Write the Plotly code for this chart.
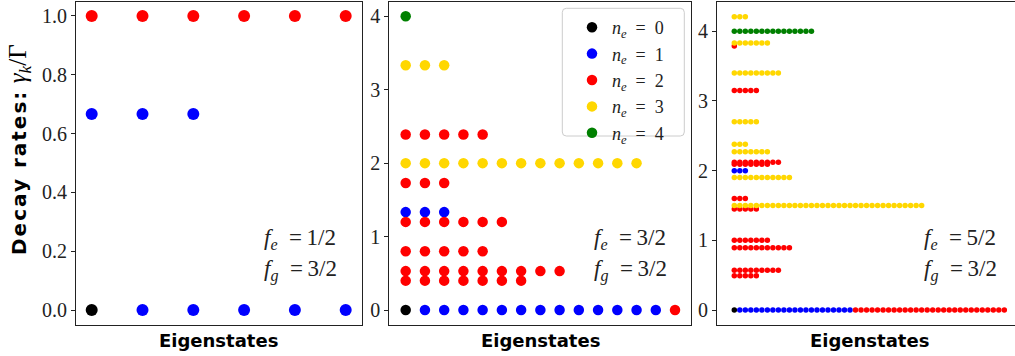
import plotly.graph_objects as go

# ---------------- data ----------------
# decay-rate levels (gamma_k / Gamma) per panel, and number of eigenstates
# at each level for each number of excitations n_e
P1_LEVELS = [0.0, 0.667, 1.0]
P1_NE0 = [1, 0, 0]
P1_NE1 = [5, 3, 0]
P1_NE2 = [0, 0, 6]
P1_NE3 = [0, 0, 0]
P1_NE4 = [0, 0, 0]

P2_LEVELS = [0.0, 0.4, 0.53, 0.8, 1.2, 1.333, 1.73, 2.0, 2.39, 3.333, 4.0]
P2_NE0 = [1, 0, 0, 0, 0, 0, 0, 0, 0, 0, 0]
P2_NE1 = [13, 0, 0, 0, 0, 3, 0, 0, 0, 0, 0]
P2_NE2 = [1, 7, 9, 5, 6, 0, 3, 0, 5, 0, 0]
P2_NE3 = [0, 0, 0, 0, 0, 0, 0, 13, 0, 3, 0]
P2_NE4 = [0, 0, 0, 0, 0, 0, 0, 0, 0, 0, 1]

P3_LEVELS = [0.0, 0.49, 0.57, 0.895, 1.0, 1.45, 1.5, 1.6, 1.9, 2.0, 2.09, 2.12,
             2.27, 2.38, 2.7, 3.15, 3.4, 3.79, 3.83, 4.0, 4.21]
P3_NE0 = [1, 0, 0, 0, 0, 0, 0, 0, 0, 0, 0, 0, 0, 0, 0, 0, 0, 0, 0, 0, 0]
P3_NE1 = [21, 0, 0, 0, 0, 0, 0, 0, 0, 3, 0, 0, 0, 0, 0, 0, 0, 0, 0, 0, 0]
P3_NE2 = [28, 5, 9, 11, 7, 5, 0, 3, 0, 0, 7, 9, 0, 0, 0, 5, 0, 1, 0, 0, 0]
P3_NE3 = [0, 0, 0, 0, 0, 0, 35, 0, 11, 0, 0, 0, 7, 3, 5, 0, 9, 0, 7, 0, 3]
P3_NE4 = [0, 0, 0, 0, 0, 0, 0, 0, 0, 0, 0, 0, 0, 0, 0, 0, 0, 0, 0, 15, 0]

NE_LABELS = ["0", "1", "2", "3", "4"]
COLORS = ["#000000", "#0000ff", "#ff0000", "#ffd700", "#008000"]
PANEL_TEXT = [("1/2", "3/2"), ("3/2", "3/2"), ("5/2", "3/2")]

# ---------------- layout helpers ----------------
W, H = 1015, 356
def fx(p):
    return p / W
def fy(p):
    return 1 - p / H

panels = [
    dict(levels=P1_LEVELS, counts=[P1_NE0, P1_NE1, P1_NE2, P1_NE3, P1_NE4],
         xdom=(76, 361.7), xr=(-0.309, 5.315), yr=(-0.051, 1.0476),
         yticks=[0, 0.2, 0.4, 0.6, 0.8, 1.0],
         yticktext=["0.0", "0.2", "0.4", "0.6", "0.8", "1.0"],
         msize=12, txt_x=261.7, mirror=True),
    dict(levels=P2_LEVELS, counts=[P2_NE0, P2_NE1, P2_NE2, P2_NE3, P2_NE4],
         xdom=(389.3, 691), xr=(-0.852, 14.83), yr=(-0.204, 4.194),
         yticks=[0, 1, 2, 3, 4], yticktext=["0", "1", "2", "3", "4"],
         msize=10.5, txt_x=591.7, mirror=True),
    dict(levels=P3_LEVELS, counts=[P3_NE0, P3_NE1, P3_NE2, P3_NE3, P3_NE4],
         xdom=(717, 1015), xr=(-3.14, 50.94), yr=(-0.215, 4.42),
         yticks=[0, 1, 2, 3, 4], yticktext=["0", "1", "2", "3", "4"],
         msize=5.5, txt_x=921.7, mirror=False),
]

SERIF = "Liberation Serif"
SANS = "DejaVu Sans"
fig = go.Figure()
annotations = []
shapes = []

for i, p in enumerate(panels):
    ax = "" if i == 0 else str(i + 1)
    for ne in range(5):
        xs, ys = [], []
        for li, lev in enumerate(p["levels"]):
            start = sum(p["counts"][k][li] for k in range(ne))
            for j in range(p["counts"][ne][li]):
                xs.append(start + j)
                ys.append(lev)
        fig.add_trace(go.Scatter(
            x=xs, y=ys, mode="markers",
            marker=dict(color=COLORS[ne], size=p["msize"], line=dict(width=0)),
            name="<i>n<sub>e</sub></i>\u2002=\u2002" + NE_LABELS[ne],
            showlegend=(i == 1), xaxis="x" + ax, yaxis="y" + ax,
            hoverinfo="skip"))
    fig.update_layout(**{
        "xaxis" + ax: dict(domain=[fx(p["xdom"][0]), fx(p["xdom"][1])],
                           range=list(p["xr"]), showline=True, mirror=True,
                           linecolor="#222", linewidth=1.2, showticklabels=False,
                           ticks="", showgrid=False, zeroline=False,
                           anchor="y" + ax),
        "yaxis" + ax: dict(domain=[fy(325), fy(2)], range=list(p["yr"]),
                           showline=True, mirror=p["mirror"], linecolor="#222",
                           linewidth=1.2, tickvals=p["yticks"],
                           ticktext=p["yticktext"], ticks="outside", ticklen=4,
                           tickcolor="#222", showgrid=False, zeroline=False,
                           tickfont=dict(family=SERIF, size=20, color="#222"),
                           anchor="x" + ax),
    })
    cx = (p["xdom"][0] + (p["xdom"][1] if i < 2 else 1021.6)) / 2
    annotations.append(dict(text="<b>Eigenstates</b>", x=fx(cx), y=fy(340),
                            xref="paper", yref="paper", showarrow=False,
                            xanchor="center", yanchor="middle",
                            font=dict(family=SANS, size=18, color="#000")))
    fe, fg = PANEL_TEXT[i]
    annotations.append(dict(text="<i>f<sub>e</sub></i>\u2002=\u2009" + fe,
                            x=fx(p["txt_x"]), y=fy(239), xref="paper",
                            yref="paper", showarrow=False, xanchor="left",
                            yanchor="middle",
                            font=dict(family=SERIF, size=23, color="#222")))
    annotations.append(dict(text="<i>f<sub>g</sub></i>\u2002=\u2009" + fg,
                            x=fx(p["txt_x"]), y=fy(270), xref="paper",
                            yref="paper", showarrow=False, xanchor="left",
                            yanchor="middle",
                            font=dict(family=SERIF, size=23, color="#222")))

annotations.append(dict(
    text="<span style='letter-spacing:2px'><b>Decay rates:</b></span> "
         "<span style='font-family:Liberation Serif;font-size:25px'>"
         "<i>γ<sub>k</sub></i>/Γ</span>",
    x=fx(19), y=fy(150), xref="paper", yref="paper", showarrow=False,
    textangle=-90, xanchor="center", yanchor="middle",
    font=dict(family=SANS, size=20, color="#000")))

# legend frame (rounded)
x0, x1, y0, y1, r = fx(562.3), fx(684.3), fy(136), fy(8.3), 4
rx, ry = r / W, r / H
path = (f"M {x0+rx},{y0} L {x1-rx},{y0} Q {x1},{y0} {x1},{y0+ry} "
        f"L {x1},{y1-ry} Q {x1},{y1} {x1-rx},{y1} L {x0+rx},{y1} "
        f"Q {x0},{y1} {x0},{y1-ry} L {x0},{y0+ry} Q {x0},{y0} {x0+rx},{y0} Z")
shapes.append(dict(type="path", path=path, xref="paper", yref="paper",
                   line=dict(color="#cccccc", width=1), fillcolor="white",
                   layer="above"))

fig.update_layout(
    width=W, height=H, margin=dict(l=0, r=0, t=0, b=0),
    paper_bgcolor="white", plot_bgcolor="white",
    annotations=annotations, shapes=shapes,
    legend=dict(x=fx(572), y=fy(9), xanchor="left", yanchor="top",
                bgcolor="rgba(0,0,0,0)", borderwidth=0,
                font=dict(family=SERIF, size=18, color="#222"),
                itemsizing="trace"),
)

fig.write_html("out.html", config={"displayModeBar": False},
               post_script="document.body.style.margin='0';"
                           "document.body.style.overflow='hidden';")
